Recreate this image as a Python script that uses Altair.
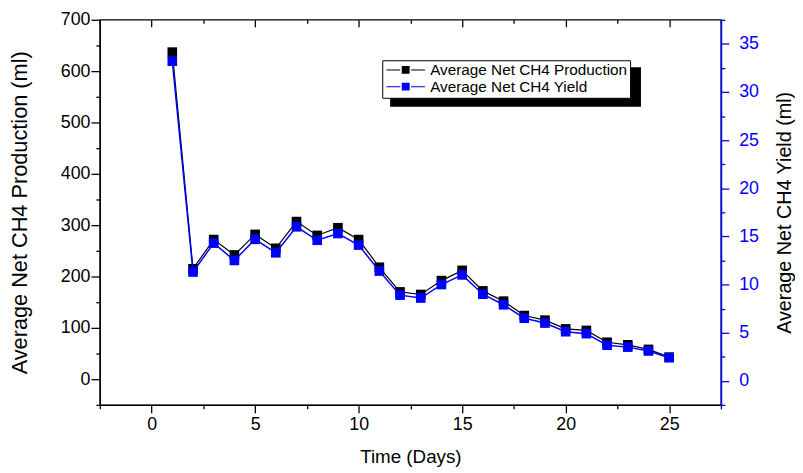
import altair as alt
import pandas as pd

days = list(range(1, 26))
production = [637, 215, 272, 242, 282, 255, 307, 280, 295, 272, 218, 170, 165, 192, 212,
              172, 152, 124, 115, 98, 95, 72, 67, 58, 43]
yield_ml = [33.2, 11.3, 14.3, 12.5, 14.7, 13.3, 16.0, 14.6, 15.3, 14.1, 11.4, 8.9, 8.6, 10.0, 11.0,
            9.0, 7.9, 6.5, 6.0, 5.1, 4.9, 3.7, 3.5, 3.1, 2.4]
series_names = ["Average Net CH4 Production", "Average Net CH4 Yield"]
series_colors = ["#000000", "#0000ff"]

x_ticks = [-2.5 + 2.5 * i for i in range(13)]
left_ticks = [-50 + 50 * i for i in range(16)]
right_ticks = [-2.5 + 2.5 * i for i in range(17)]

df_p = pd.DataFrame({"day": days, "value": production, "series": series_names[0]})
df_y = pd.DataFrame({"day": days, "value": yield_ml, "series": series_names[1]})

FONT = "Liberation Sans"
W, H = 629, 390

xscale = alt.Scale(domain=[-2.5, 27.5], nice=False, zero=False)
lscale = alt.Scale(domain=[-50, 700], nice=False, zero=False)
rscale = alt.Scale(domain=[-2.5, 37.5], nice=False, zero=False)

x_bottom = alt.X("day:Q", scale=xscale, title="Time (Days)", axis=alt.Axis(
    values=x_ticks, grid=False, orient="bottom",
    labelExpr="datum.value % 5 === 0 ? datum.label : ''",
    tickSize={"condition": {"test": "datum.value % 5 === 0", "value": 8}, "value": 4},
    tickColor="black", domainColor="black", tickWidth=1.3, domainWidth=1.3,
    labelFont=FONT, labelFontSize=18, labelColor="black", labelPadding=3,
    titleFont=FONT, titleFontSize=19, titleFontWeight="normal", titleColor="black",
    titlePadding=14))

x_top = alt.X("day:Q", scale=xscale, title=None, axis=alt.Axis(
    values=x_ticks, grid=False, orient="top", labels=False, domain=False,
    offset=-7, tickSize=7, tickColor="black", tickWidth=1.3,
    tickDash={"condition": {"test": "datum.value % 5 === 0", "value": [7, 0]}, "value": [0, 3.5, 10]}))

x_none = alt.X("day:Q", scale=xscale, axis=None)

y_left = alt.Y("value:Q", scale=lscale, title="Average Net CH4 Production (ml)", axis=alt.Axis(
    values=left_ticks, grid=False, orient="left",
    labelExpr="datum.value % 100 === 0 ? datum.label : ''",
    tickSize={"condition": {"test": "datum.value % 100 === 0", "value": 9}, "value": 4},
    tickColor="black", domainColor="black", tickWidth=1.3, domainWidth=1.3,
    labelFont=FONT, labelFontSize=18, labelColor="black", labelPadding=1,
    titleFont=FONT, titleFontSize=22, titleFontWeight="normal", titleColor="black",
    titlePadding=29))

y_right = alt.Y("value:Q", scale=rscale, title="Average Net CH4 Yield (ml)", axis=alt.Axis(
    values=right_ticks, grid=False, orient="right",
    labelExpr="datum.value % 5 === 0 ? datum.label : ''",
    tickSize={"condition": {"test": "datum.value % 5 === 0", "value": 8}, "value": 4},
    tickColor="#0000ff", domainColor="#0000ff", tickWidth=1.3, domainWidth=1.6,
    labelFont=FONT, labelFontSize=18, labelColor="#0000ff", labelPadding=10,
    titleFont=FONT, titleFontSize=20, titleFontWeight="normal", titleColor="black",
    titleAngle=270, titlePadding=36))

# legend glyph: thin line, gap, filled square, gap, thin line (nominal box 15 px, drawn 39 px wide)
legend_path = ("M-2.6,-0.067H-0.73V0.067H-2.6Z M0.73,-0.067H2.6V0.067H0.73Z "
               "M-0.53,-0.53H0.53V0.53H-0.53Z")
color = alt.Color("series:N", scale=alt.Scale(domain=series_names, range=series_colors),
                  title=None, legend=alt.Legend(
                      orient="none", legendX=286, legendY=41, symbolType=legend_path,
                      symbolSize=225, symbolStrokeWidth=0, symbolOpacity=1, symbolOffset=14,
                      labelFont=FONT, labelFontSize=15.5, labelColor="black", labelOffset=17,
                      labelLimit=400, fillColor="white", strokeColor="black", padding=2,
                      rowPadding=-2, cornerRadius=0))

shadow = alt.Chart(pd.DataFrame({"k": [0]})).mark_rect(color="black").encode(
    x=alt.value(294), x2=alt.value(548), y=alt.value(48), y2=alt.value(88))

line_p = alt.Chart(df_p).mark_line(color="black", strokeWidth=1.2).encode(
    x=x_bottom, y=y_left)
pts_p = alt.Chart(df_p).mark_point(shape="square", filled=True, size=95, opacity=1).encode(
    x=x_top, y=alt.Y("value:Q", scale=lscale, axis=None), color=color)
line_y = alt.Chart(df_y).mark_line(color="#0000ff", strokeWidth=1.5).encode(
    x=x_none, y=y_right)
pts_y = alt.Chart(df_y).mark_point(shape="square", filled=True, size=95, opacity=1).encode(
    x=x_none, y=alt.Y("value:Q", scale=rscale, axis=None), color=color)

chart = alt.layer(shadow, line_p, pts_p, line_y, pts_y).resolve_scale(
    y="independent").resolve_axis(x="independent").properties(
    width=W, height=H, background="white",
    padding={"left": 0, "top": 0, "right": 0, "bottom": 0},
).configure_view(stroke="black", strokeWidth=1.3)

chart.save("out.html", embed_options={"renderer": "svg", "actions": False})
